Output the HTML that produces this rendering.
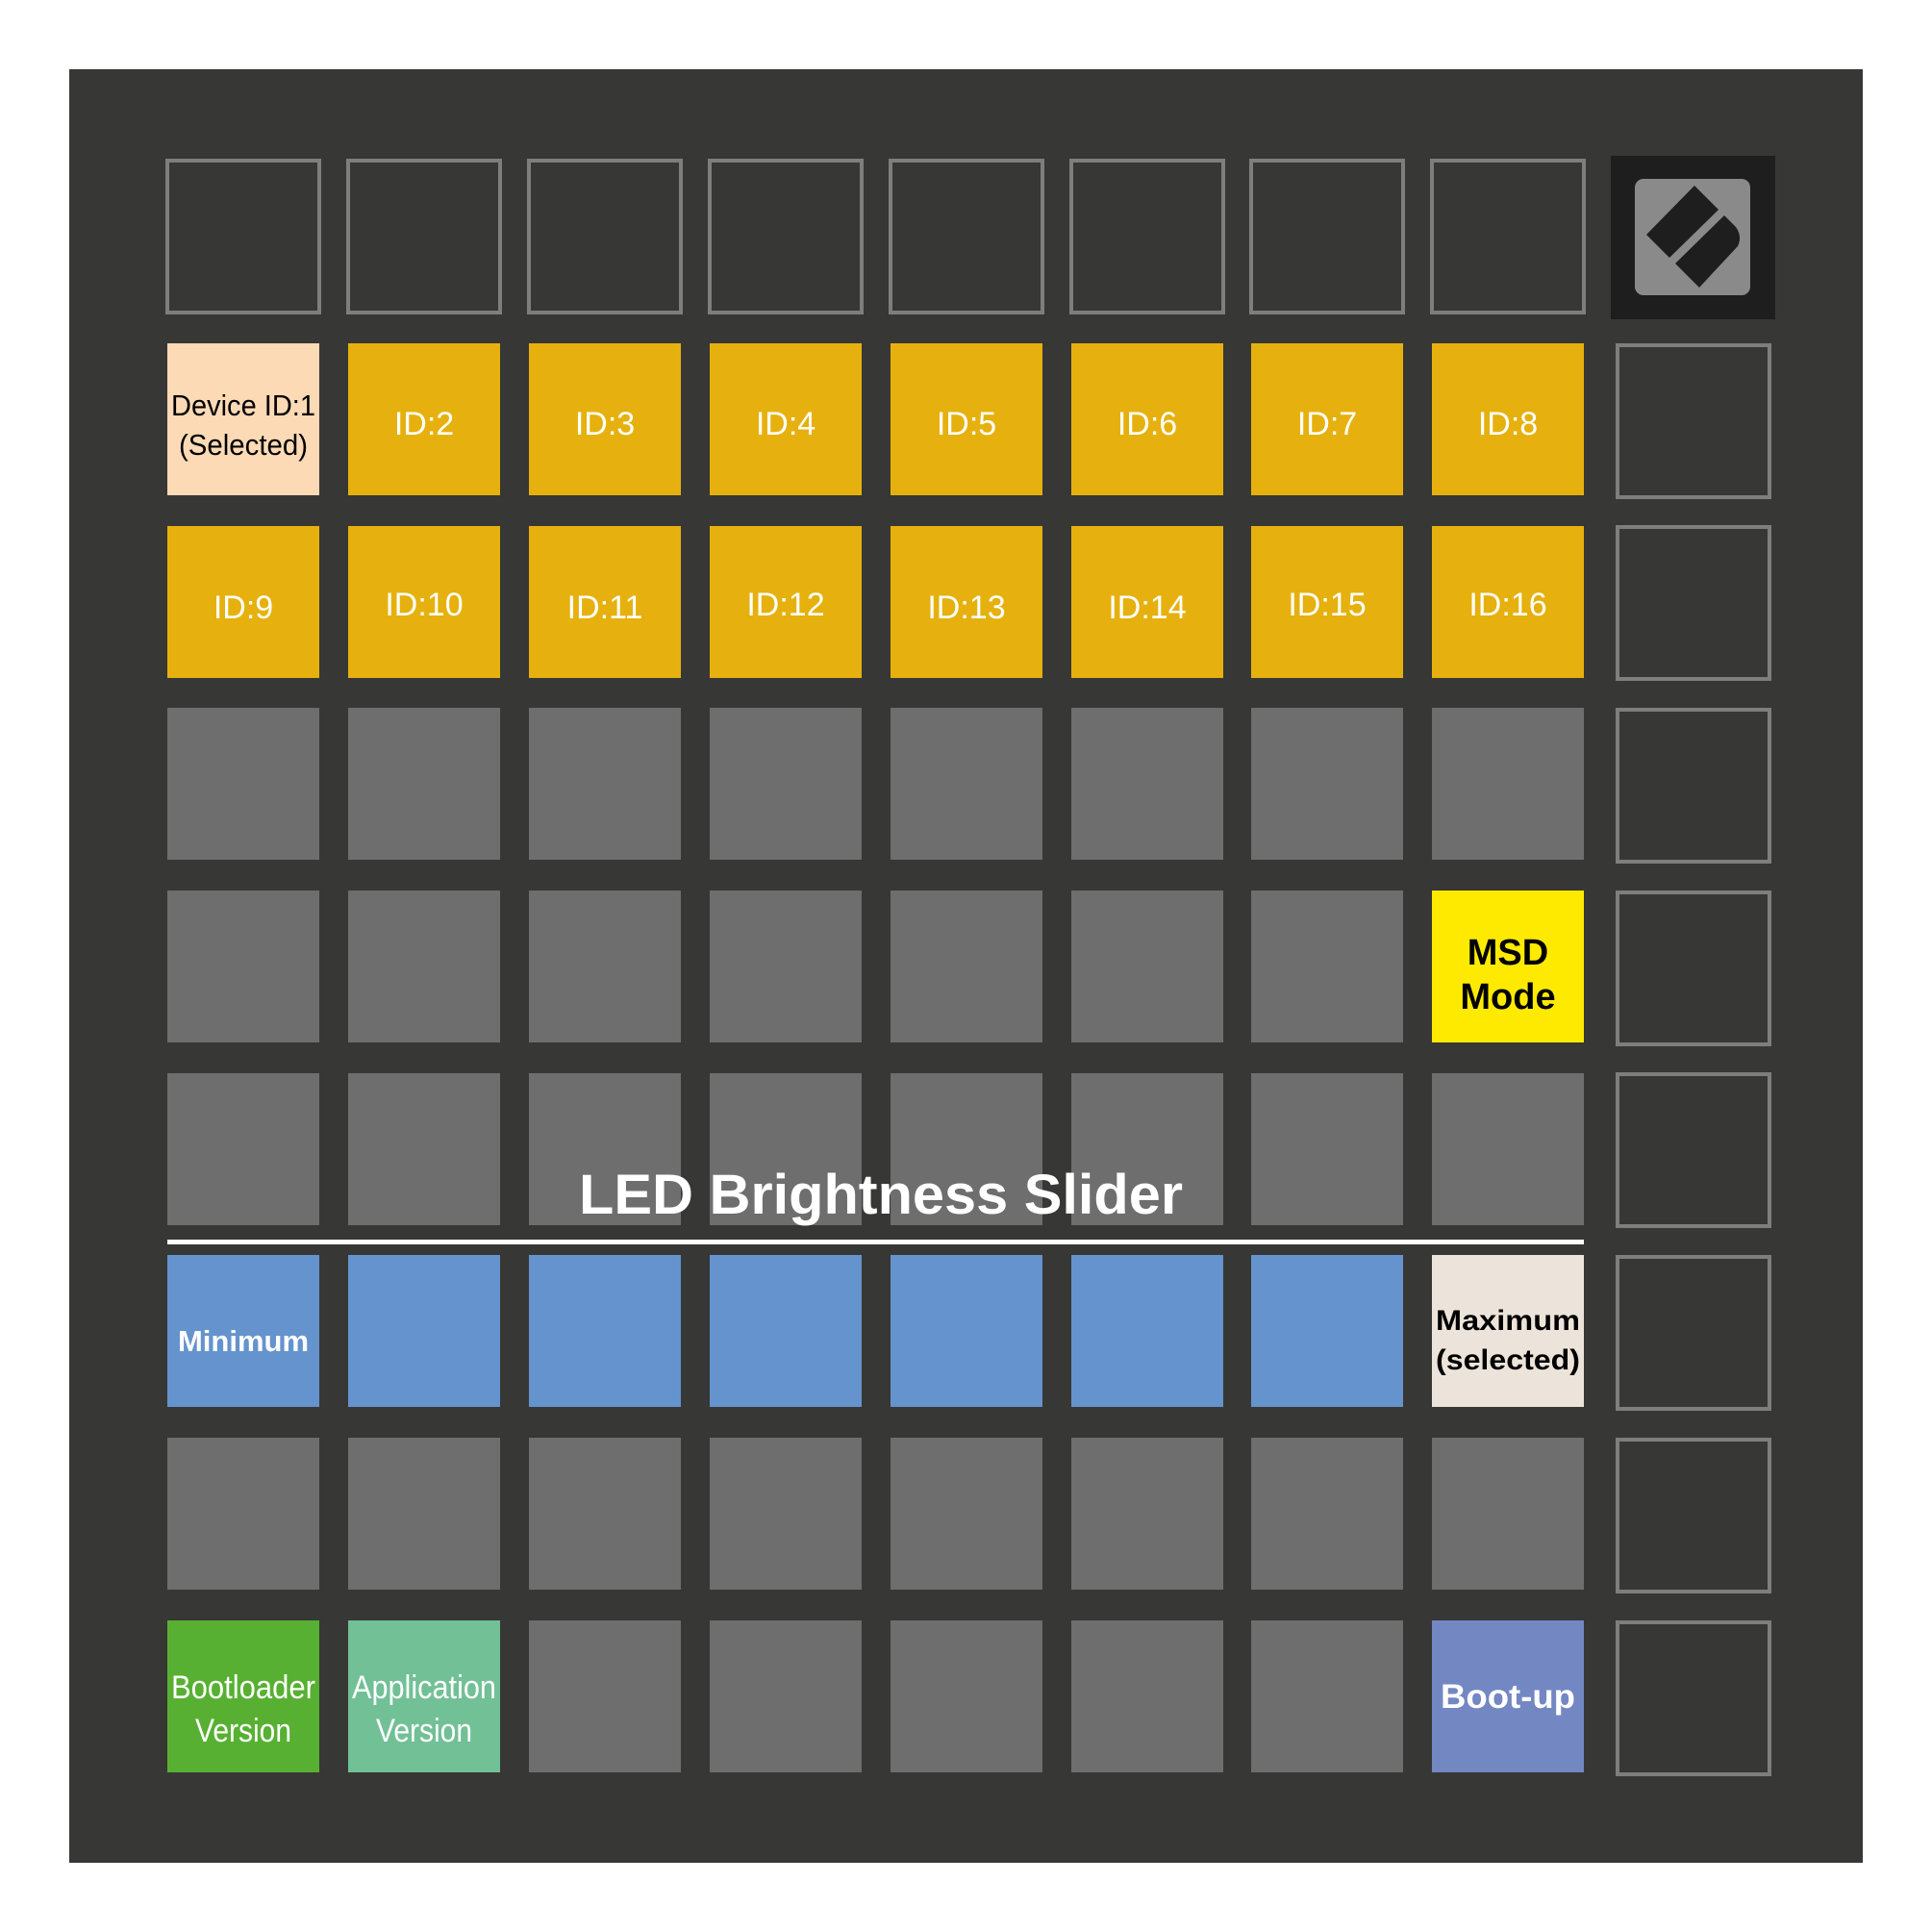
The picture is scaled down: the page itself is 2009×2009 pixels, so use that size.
<!DOCTYPE html>
<html><head><meta charset="utf-8"><style>html,body{margin:0;padding:0;background:#fff}svg{display:block}</style></head>
<body>
<svg xmlns="http://www.w3.org/2000/svg" width="2009" height="2009" viewBox="0 0 2009 2009" font-family="Liberation Sans, sans-serif">
<rect x="0" y="0" width="2009" height="2009" fill="#ffffff"/>
<rect x="72" y="72" width="1865" height="1865" fill="#373735"/>
<g fill="none" stroke="#7e7e7c" stroke-width="4">
<rect x="174" y="167" width="158" height="158"/>
<rect x="362" y="167" width="158" height="158"/>
<rect x="550" y="167" width="158" height="158"/>
<rect x="738" y="167" width="158" height="158"/>
<rect x="926" y="167" width="158" height="158"/>
<rect x="1114" y="167" width="158" height="158"/>
<rect x="1301" y="167" width="158" height="158"/>
<rect x="1489" y="167" width="158" height="158"/>
<rect x="1682" y="359" width="158" height="158"/>
<rect x="1682" y="548" width="158" height="158"/>
<rect x="1682" y="738" width="158" height="158"/>
<rect x="1682" y="928" width="158" height="158"/>
<rect x="1682" y="1117" width="158" height="158"/>
<rect x="1682" y="1307" width="158" height="158"/>
<rect x="1682" y="1497" width="158" height="158"/>
<rect x="1682" y="1687" width="158" height="158"/>
</g>
<rect x="1675" y="162" width="171" height="170" fill="#1e1e1e"/>
<rect x="1700" y="186" width="120" height="121" rx="9" fill="#8a8a8a"/>
<polygon points="1762,193 1787,218 1736,268 1712,244" fill="#1e1e1e"/>
<path d="M1793,224 L1805,236 Q1812,246 1807,256 L1767,299 L1742,274 Z" fill="#1e1e1e"/>
<g>
<rect x="174" y="357" width="158" height="158" fill="#fcdab5"/>
<rect x="362" y="357" width="158" height="158" fill="#e6b10e"/>
<rect x="550" y="357" width="158" height="158" fill="#e6b10e"/>
<rect x="738" y="357" width="158" height="158" fill="#e6b10e"/>
<rect x="926" y="357" width="158" height="158" fill="#e6b10e"/>
<rect x="1114" y="357" width="158" height="158" fill="#e6b10e"/>
<rect x="1301" y="357" width="158" height="158" fill="#e6b10e"/>
<rect x="1489" y="357" width="158" height="158" fill="#e6b10e"/>
<rect x="174" y="547" width="158" height="158" fill="#e6b10e"/>
<rect x="362" y="547" width="158" height="158" fill="#e6b10e"/>
<rect x="550" y="547" width="158" height="158" fill="#e6b10e"/>
<rect x="738" y="547" width="158" height="158" fill="#e6b10e"/>
<rect x="926" y="547" width="158" height="158" fill="#e6b10e"/>
<rect x="1114" y="547" width="158" height="158" fill="#e6b10e"/>
<rect x="1301" y="547" width="158" height="158" fill="#e6b10e"/>
<rect x="1489" y="547" width="158" height="158" fill="#e6b10e"/>
<g fill="#6e6e6e">
<rect x="174" y="736" width="158" height="158"/>
<rect x="362" y="736" width="158" height="158"/>
<rect x="550" y="736" width="158" height="158"/>
<rect x="738" y="736" width="158" height="158"/>
<rect x="926" y="736" width="158" height="158"/>
<rect x="1114" y="736" width="158" height="158"/>
<rect x="1301" y="736" width="158" height="158"/>
<rect x="1489" y="736" width="158" height="158"/>
<rect x="174" y="926" width="158" height="158"/>
<rect x="362" y="926" width="158" height="158"/>
<rect x="550" y="926" width="158" height="158"/>
<rect x="738" y="926" width="158" height="158"/>
<rect x="926" y="926" width="158" height="158"/>
<rect x="1114" y="926" width="158" height="158"/>
<rect x="1301" y="926" width="158" height="158"/>
<rect x="174" y="1116" width="158" height="158"/>
<rect x="362" y="1116" width="158" height="158"/>
<rect x="550" y="1116" width="158" height="158"/>
<rect x="738" y="1116" width="158" height="158"/>
<rect x="926" y="1116" width="158" height="158"/>
<rect x="1114" y="1116" width="158" height="158"/>
<rect x="1301" y="1116" width="158" height="158"/>
<rect x="1489" y="1116" width="158" height="158"/>
<rect x="174" y="1495" width="158" height="158"/>
<rect x="362" y="1495" width="158" height="158"/>
<rect x="550" y="1495" width="158" height="158"/>
<rect x="738" y="1495" width="158" height="158"/>
<rect x="926" y="1495" width="158" height="158"/>
<rect x="1114" y="1495" width="158" height="158"/>
<rect x="1301" y="1495" width="158" height="158"/>
<rect x="1489" y="1495" width="158" height="158"/>
<rect x="550" y="1685" width="158" height="158"/>
<rect x="738" y="1685" width="158" height="158"/>
<rect x="926" y="1685" width="158" height="158"/>
<rect x="1114" y="1685" width="158" height="158"/>
<rect x="1301" y="1685" width="158" height="158"/>
</g>
<rect x="1489" y="926" width="158" height="158" fill="#fdea00"/>
<g fill="#6593cd">
<rect x="174" y="1305" width="158" height="158"/>
<rect x="362" y="1305" width="158" height="158"/>
<rect x="550" y="1305" width="158" height="158"/>
<rect x="738" y="1305" width="158" height="158"/>
<rect x="926" y="1305" width="158" height="158"/>
<rect x="1114" y="1305" width="158" height="158"/>
<rect x="1301" y="1305" width="158" height="158"/>
</g>
<rect x="1489" y="1305" width="158" height="158" fill="#ece4da"/>
<rect x="174" y="1685" width="158" height="158" fill="#58b032"/>
<rect x="362" y="1685" width="158" height="158" fill="#72c096"/>
<rect x="1489" y="1685" width="158" height="158" fill="#7387c3"/>
</g>
<rect x="174" y="1289" width="1473" height="5" fill="#ffffff"/>
<g text-anchor="middle" font-size="34" fill="#ffffff">
<text x="253" y="432" fill="#000" font-size="31" textLength="150" lengthAdjust="spacingAndGlyphs">Device ID:1</text>
<text x="253" y="473" fill="#000" font-size="31" textLength="134" lengthAdjust="spacingAndGlyphs">(Selected)</text>
<text x="441" y="452">ID:2</text>
<text x="629" y="452">ID:3</text>
<text x="817" y="452">ID:4</text>
<text x="1005" y="452">ID:5</text>
<text x="1193" y="452">ID:6</text>
<text x="1380" y="452">ID:7</text>
<text x="1568" y="452">ID:8</text>
<text x="253" y="643">ID:9</text>
<text x="441" y="640">ID:10</text>
<text x="629" y="643">ID:11</text>
<text x="817" y="640">ID:12</text>
<text x="1005" y="643">ID:13</text>
<text x="1193" y="643">ID:14</text>
<text x="1380" y="640">ID:15</text>
<text x="1568" y="640">ID:16</text>
<text x="1568" y="1003" fill="#000" font-size="38" font-weight="bold">MSD</text>
<text x="1568" y="1049" fill="#000" font-size="38" font-weight="bold">Mode</text>
<text x="253" y="1405" font-size="31" font-weight="bold">Minimum</text>
<text x="1568" y="1383" fill="#000" font-size="30" font-weight="bold" textLength="150" lengthAdjust="spacingAndGlyphs">Maximum</text>
<text x="1568" y="1424" fill="#000" font-size="30" font-weight="bold" textLength="150" lengthAdjust="spacingAndGlyphs">(selected)</text>
<text x="253" y="1766" font-size="34" textLength="150" lengthAdjust="spacingAndGlyphs">Bootloader</text>
<text x="253" y="1811" font-size="34" textLength="100" lengthAdjust="spacingAndGlyphs">Version</text>
<text x="441" y="1766" font-size="34" textLength="150" lengthAdjust="spacingAndGlyphs">Application</text>
<text x="441" y="1811" font-size="34" textLength="100" lengthAdjust="spacingAndGlyphs">Version</text>
<text x="1568" y="1776" font-size="35" font-weight="bold" textLength="140" lengthAdjust="spacingAndGlyphs">Boot-up</text>
<text x="916" y="1262" font-size="58" font-weight="bold" textLength="628" lengthAdjust="spacingAndGlyphs">LED Brightness Slider</text>
</g>
</svg>
</body></html>
